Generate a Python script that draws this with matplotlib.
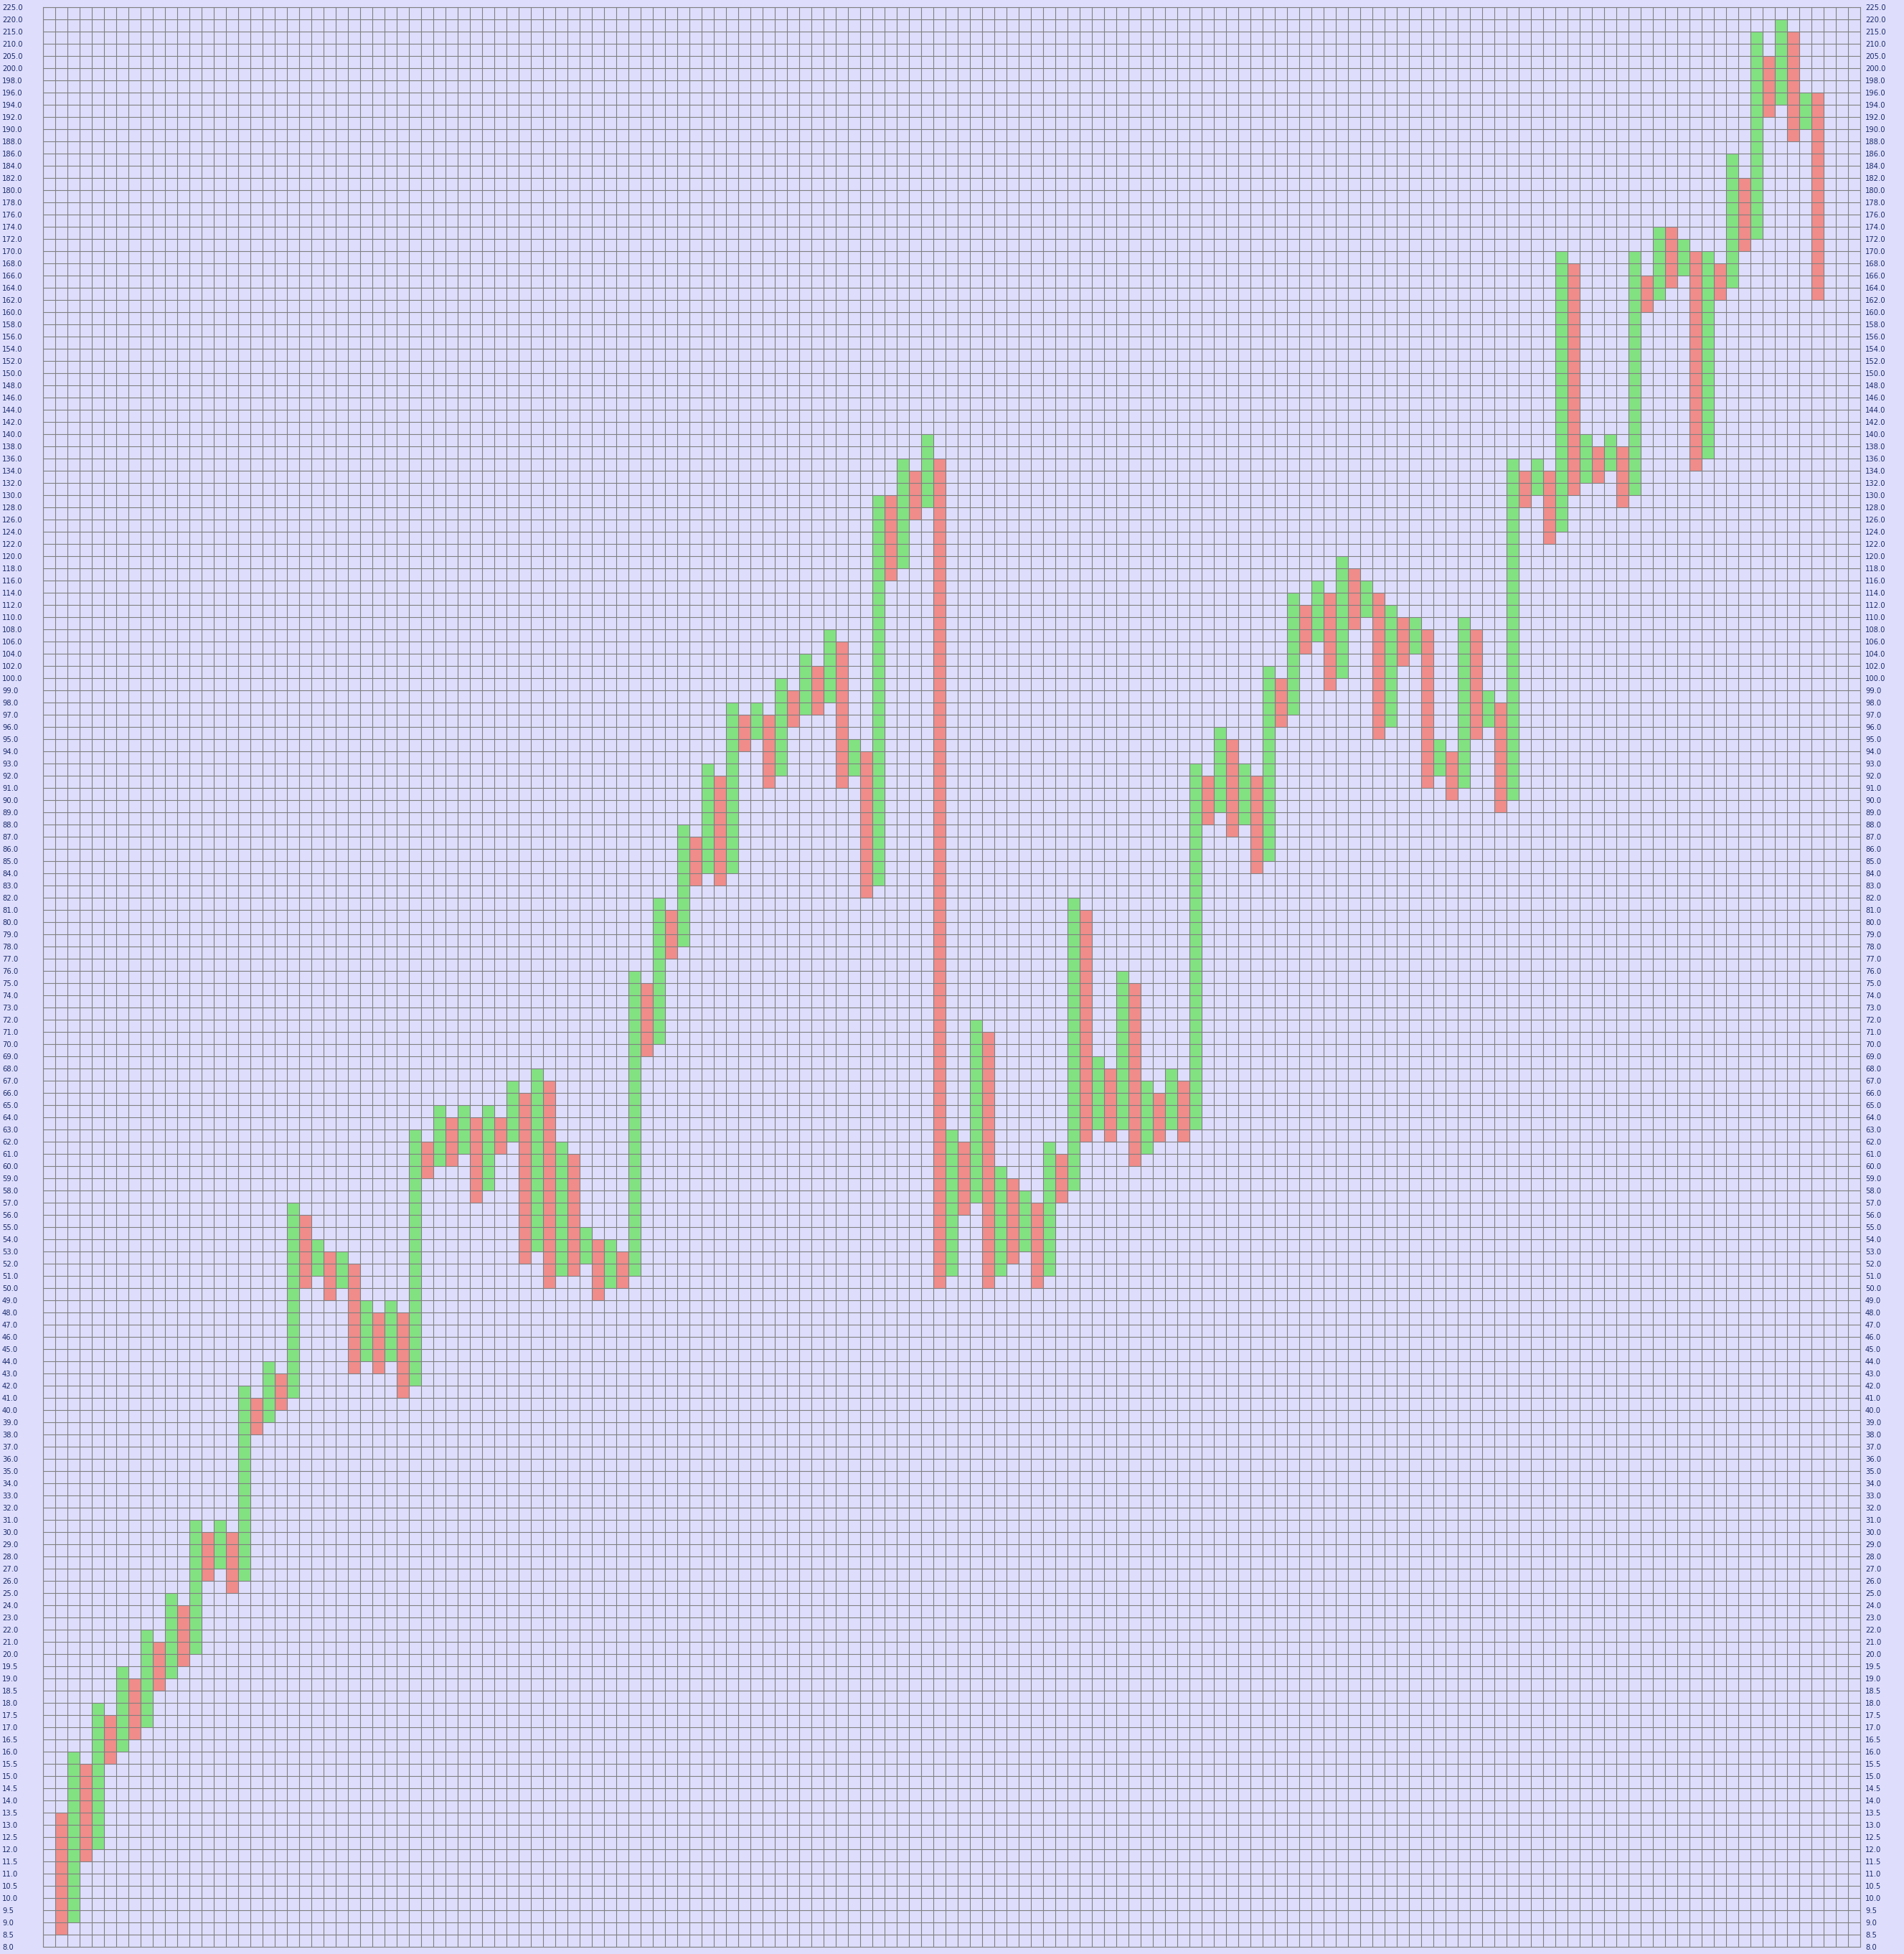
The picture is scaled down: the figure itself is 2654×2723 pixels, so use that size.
import numpy as np
import matplotlib.pyplot as plt
import matplotlib.transforms as mtransforms

# price levels of the box grid (box size changes with price)
levels = (list(np.arange(8.0, 20.01, 0.5)) + list(range(21, 100)) +
          list(range(100, 201, 2)) + [205, 210, 215, 220, 225])
levels = [float(v) for v in levels]

# one column per bar, starting at column 1; colours alternate red / green
lows = [8.5, 9, 11.5, 12, 15.5, 16, 16.5, 17, 18.5, 19,
        19.5, 20, 26, 27, 25, 26, 38, 39, 40, 41,
        50, 51, 49, 50, 43, 44, 43, 44, 41, 42,
        59, 60, 60, 61, 57, 58, 61, 62, 52, 53,
        50, 51, 51, 52, 49, 50, 50, 51, 69, 70,
        77, 78, 83, 84, 83, 84, 94, 95, 91, 92,
        96, 97, 97, 98, 91, 92, 82, 83, 116, 118,
        126, 128, 50, 51, 56, 57, 50, 51, 52, 53,
        50, 51, 57, 58, 62, 63, 62, 63, 60, 61,
        62, 63, 62, 63, 88, 89, 87, 88, 84, 85,
        96, 97, 104, 106, 99, 100, 108, 110, 95, 96,
        102, 104, 91, 92, 90, 91, 95, 96, 89, 90,
        128, 130, 122, 124, 130, 132, 132, 134, 128, 130,
        160, 162, 164, 166, 134, 136, 162, 164, 170, 172,
        192, 194, 188, 190, 162]
highs = [13.5, 16, 15.5, 18, 17.5, 19.5, 19, 22, 21, 25,
         24, 31, 30, 31, 30, 42, 41, 44, 43, 57,
         56, 54, 53, 53, 52, 49, 48, 49, 48, 63,
         62, 65, 64, 65, 64, 65, 64, 67, 66, 68,
         67, 62, 61, 55, 54, 54, 53, 76, 75, 82,
         81, 88, 87, 93, 92, 98, 97, 98, 97, 100,
         99, 104, 102, 108, 106, 95, 94, 130, 130, 136,
         134, 140, 136, 63, 62, 72, 71, 60, 59, 58,
         57, 62, 61, 82, 81, 69, 68, 76, 75, 67,
         66, 68, 67, 93, 92, 96, 95, 93, 92, 102,
         100, 114, 112, 116, 114, 120, 118, 116, 114, 112,
         110, 110, 108, 95, 94, 110, 108, 99, 98, 136,
         134, 136, 134, 170, 168, 140, 138, 140, 138, 170,
         166, 174, 174, 172, 170, 170, 168, 186, 182, 215,
         205, 220, 215, 196, 196]

red = '#f08c8a'
green = '#82e282'
bg = '#dedefc'
grid_c = '#808080'
txt_c = '#1a2a6c'

idx = {round(v, 2): i for i, v in enumerate(levels)}
cols = np.arange(1, len(lows) + 1)
bot = np.array([idx[round(float(v), 2)] for v in lows])
top = np.array([idx[round(float(v), 2)] for v in highs])
colors = [red if c % 2 == 1 else green for c in cols]

ncols = 149
fig = plt.figure(figsize=(26.54, 27.23), dpi=100, facecolor=bg)
ax = fig.add_axes([60 / 2654, 1 - 2713 / 2723, 2533 / 2654, 2703 / 2723])
ax.set_facecolor(bg)

ax.bar(cols + 0.5, top - bot, bottom=bot, width=1.0, color=colors,
       linewidth=0, zorder=1)

ax.set_xlim(0, ncols)
ax.set_ylim(0, len(levels) - 1)
ax.set_xticks(range(ncols + 1))
ax.set_xticklabels([])
ax.set_yticks(range(len(levels)))
ax.set_yticklabels(['%.1f' % v for v in levels])

# grid on top of the bars
ax.set_axisbelow(False)
ax.grid(True, color=grid_c, linewidth=0.8)
ax.tick_params(axis='x', length=0)
ax.tick_params(axis='y', length=0, labelsize=7.2, labelcolor=txt_c,
               labelleft=True, labelright=True, pad=41)
for sp in ax.spines.values():
    sp.set_color(grid_c)
    sp.set_linewidth(0.8)

# left labels start at the figure edge, right labels sit close to the frame
off = mtransforms.ScaledTranslation(-36 / 72, 0, fig.dpi_scale_trans)
for t in ax.yaxis.get_major_ticks():
    t.label1.set_horizontalalignment('left')
    t.label2.set_horizontalalignment('left')
    t.label2.set_transform(t.label2.get_transform() + off)

fig.savefig('out.png', dpi=100, facecolor=bg)
